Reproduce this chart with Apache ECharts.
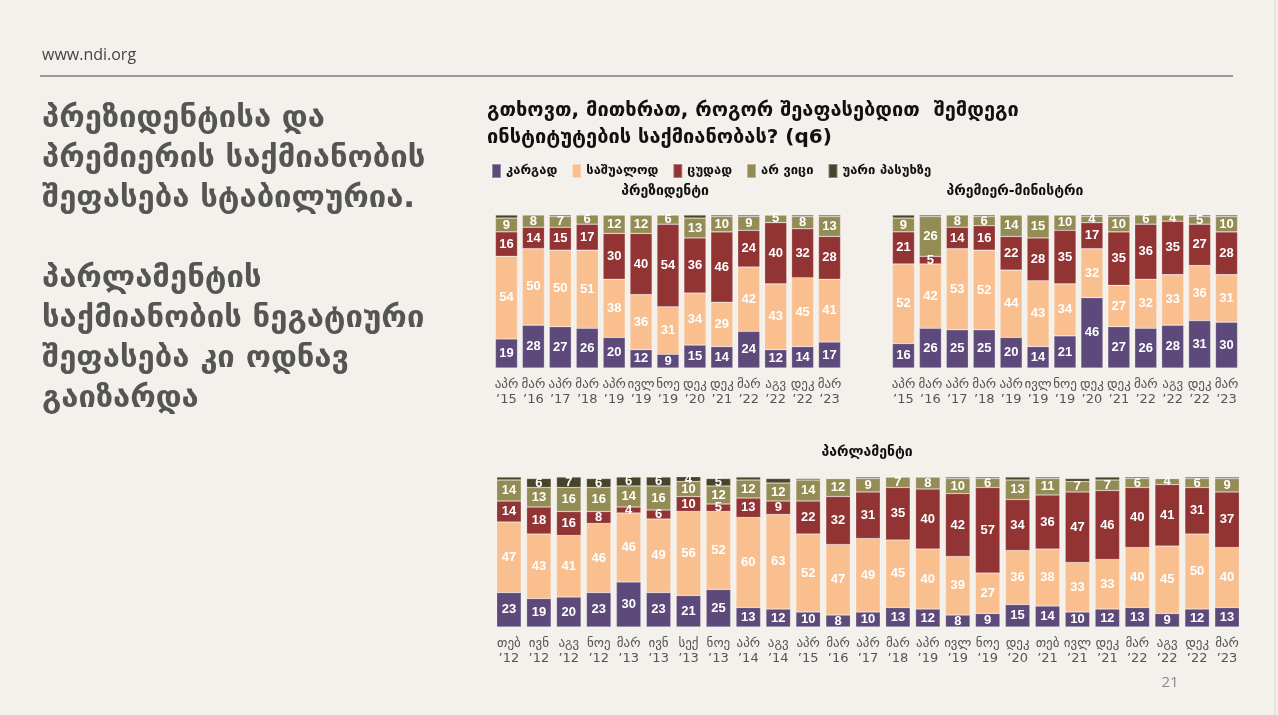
<!DOCTYPE html>
<html lang="ka">
<head>
<meta charset="UTF-8">
<title>NDI - ინსტიტუტების შეფასება</title>
<script src="https://cdn.jsdelivr.net/npm/echarts@6/dist/echarts.min.js"></script>
<style>
  html, body { margin: 0; padding: 0; background: #f4f1ec; }
  #main { width: 1278px; height: 715px; }
</style>
</head>
<body>
<div id="main"></div>
<script>
// წყარო: NDI, კითხვა q6 (%)
var seriesNames = ['კარგად', 'საშუალოდ', 'ცუდად', 'არ ვიცი', 'უარი პასუხზე'];
var colors = ['#5d4a7b', '#f9bf8f', '#923334', '#948c55', '#48442c'];

// პრეზიდენტი / პრემიერი - ერთი და იგივე ტალღები
var waves13 = ['აპრ\n’15', 'მარ\n’16', 'აპრ\n’17', 'მარ\n’18', 'აპრ\n’19', 'ივლ\n’19', 'ნოე\n’19',
  'დეკ\n’20', 'დეკ\n’21', 'მარ\n’22', 'აგვ\n’22', 'დეკ\n’22', 'მარ\n’23'];

var presGood    = [19, 28, 27, 26, 20, 12, 9, 15, 14, 24, 12, 14, 17];
var presAverage = [54, 50, 50, 51, 38, 36, 31, 34, 29, 42, 43, 45, 41];
var presBad     = [16, 14, 15, 17, 30, 40, 54, 36, 46, 24, 40, 32, 28];
var presDk      = [9, 8, 7, 6, 12, 12, 6, 13, 10, 9, 5, 8, 13];
var presRefuse  = [2, 1, 1, 1, 0, 0, 0, 2, 1, 1, 0, 1, 1];

var pmGood    = [16, 26, 25, 25, 20, 14, 21, 46, 27, 26, 28, 31, 30];
var pmAverage = [52, 42, 53, 52, 44, 43, 34, 32, 27, 32, 33, 36, 31];
var pmBad     = [21, 5, 14, 16, 22, 28, 35, 17, 35, 36, 35, 27, 28];
var pmDk      = [9, 26, 8, 6, 14, 15, 10, 4, 10, 6, 4, 5, 10];
var pmRefuse  = [2, 1, 1, 1, 0, 1, 0, 1, 1, 1, 0, 1, 1];

// პარლამენტი
var waves25 = ['თებ\n’12', 'ივნ\n’12', 'აგვ\n’12', 'ნოე\n’12', 'მარ\n’13', 'ივნ\n’13', 'სექ\n’13', 'ნოე\n’13',
  'აპრ\n’14', 'აგვ\n’14', 'აპრ\n’15', 'მარ\n’16', 'აპრ\n’17', 'მარ\n’18', 'აპრ\n’19', 'ივლ\n’19',
  'ნოე\n’19', 'დეკ\n’20', 'თებ\n’21', 'ივლ\n’21', 'დეკ\n’21', 'მარ\n’22', 'აგვ\n’22', 'დეკ\n’22', 'მარ\n’23'];

var parlGood    = [23, 19, 20, 23, 30, 23, 21, 25, 13, 12, 10, 8, 10, 13, 12, 8, 9, 15, 14, 10, 12, 13, 9, 12, 13];
var parlAverage = [47, 43, 41, 46, 46, 49, 56, 52, 60, 63, 52, 47, 49, 45, 40, 39, 27, 36, 38, 33, 33, 40, 45, 50, 40];
var parlBad     = [14, 18, 16, 8, 4, 6, 10, 5, 13, 9, 22, 32, 31, 35, 40, 42, 57, 34, 36, 47, 46, 40, 41, 31, 37];
var parlDk      = [14, 13, 16, 16, 14, 16, 10, 12, 12, 12, 14, 12, 9, 7, 8, 10, 6, 13, 11, 7, 7, 6, 4, 6, 9];
var parlRefuse  = [2, 6, 7, 6, 6, 6, 4, 5, 2, 3, 1, 0, 1, 0, 0, 1, 1, 2, 1, 2, 2, 1, 0, 1, 1];

var textColor = '#555555';
var geoFont = 'DejaVu Sans';

function makeSeries(idx, sets) {
  return sets.map(function (d, i) {
    return {
      name: seriesNames[i],
      type: 'bar',
      stack: 'chart' + idx,
      xAxisIndex: idx,
      yAxisIndex: idx,
      barCategoryGap: '18%',
      data: d,
      itemStyle: { color: colors[i], borderColor: 'rgba(255,255,255,0.35)', borderWidth: 0.6 },
      label: {
        show: true,
        position: 'inside',
        color: '#ffffff',
        fontFamily: 'Liberation Sans',
        fontWeight: 'bold',
        fontSize: 13,
        formatter: function (p) { return p.value >= 4 ? p.value : ''; }
      }
    };
  });
}

function xAx(idx, cats) {
  return {
    type: 'category', gridIndex: idx, data: cats,
    axisLine: { show: false }, axisTick: { show: false },
    axisLabel: { color: textColor, fontFamily: geoFont, fontSize: 13, lineHeight: 15, margin: 9, interval: 0 }
  };
}

function yAx(idx) {
  return { type: 'value', gridIndex: idx, min: 0, max: 100, show: false };
}

var chart = echarts.init(document.getElementById('main'));

var option = {
  backgroundColor: '#f4f1ec',
  animation: false,
  legend: {
    data: seriesNames,
    left: 486, top: 158,
    icon: 'rect', itemWidth: 9, itemHeight: 14, itemGap: 14,
    textStyle: { color: '#111', fontFamily: geoFont, fontWeight: 'bold', fontSize: 13 }
  },
  grid: [
    { left: 493, top: 215, width: 350, height: 153 },
    { left: 890, top: 215, width: 350, height: 153 },
    { left: 494, top: 477, width: 748, height: 150 }
  ],
  xAxis: [xAx(0, waves13), xAx(1, waves13), xAx(2, waves25)],
  yAxis: [yAx(0), yAx(1), yAx(2)],
  series: [].concat(
    makeSeries(0, [presGood, presAverage, presBad, presDk, presRefuse]),
    makeSeries(1, [pmGood, pmAverage, pmBad, pmDk, pmRefuse]),
    makeSeries(2, [parlGood, parlAverage, parlBad, parlDk, parlRefuse])
  ),
  graphic: [
    { type: 'text', left: 42, top: 47, style: { text: 'www.ndi.org', fill: '#444', font: '16px "Open Sans"' } },
    { type: 'line', shape: { x1: 40, y1: 76, x2: 1233, y2: 76 }, style: { stroke: '#444', lineWidth: 1 } },
    { type: 'line', shape: { x1: 1275, y1: 0, x2: 1275, y2: 715 }, style: { stroke: '#d8d4cf', lineWidth: 1 } },
    {
      type: 'text', left: 42, top: 99,
      style: {
        text: 'პრეზიდენტისა და\nპრემიერის საქმიანობის\nშეფასება სტაბილურია.\n\nპარლამენტის\nსაქმიანობის ნეგატიური\nშეფასება კი ოდნავ\nგაიზარდა',
        fill: '#555555', font: 'bold 31px "DejaVu Sans"', lineHeight: 40
      }
    },
    {
      type: 'text', left: 487, top: 97,
      style: {
        text: 'გთხოვთ, მითხრათ, როგორ შეაფასებდით  შემდეგი\nინსტიტუტების საქმიანობას? (q6)',
        fill: '#111', font: 'bold 20px "DejaVu Sans"', lineHeight: 27
      }
    },
    { type: 'text', x: 665, y: 184, style: { text: 'პრეზიდენტი', fill: '#111', font: 'bold 14px "DejaVu Sans"', textAlign: 'center' } },
    { type: 'text', x: 1015, y: 184, style: { text: 'პრემიერ-მინისტრი', fill: '#111', font: 'bold 14px "DejaVu Sans"', textAlign: 'center' } },
    { type: 'text', x: 867, y: 445, style: { text: 'პარლამენტი', fill: '#111', font: 'bold 14px "DejaVu Sans"', textAlign: 'center' } },
    { type: 'text', x: 1170, y: 675, style: { text: '21', fill: '#8a8a8a', font: '15px "Open Sans"', textAlign: 'center' } }
  ]
};

chart.setOption(option);
</script>
</body>
</html>
